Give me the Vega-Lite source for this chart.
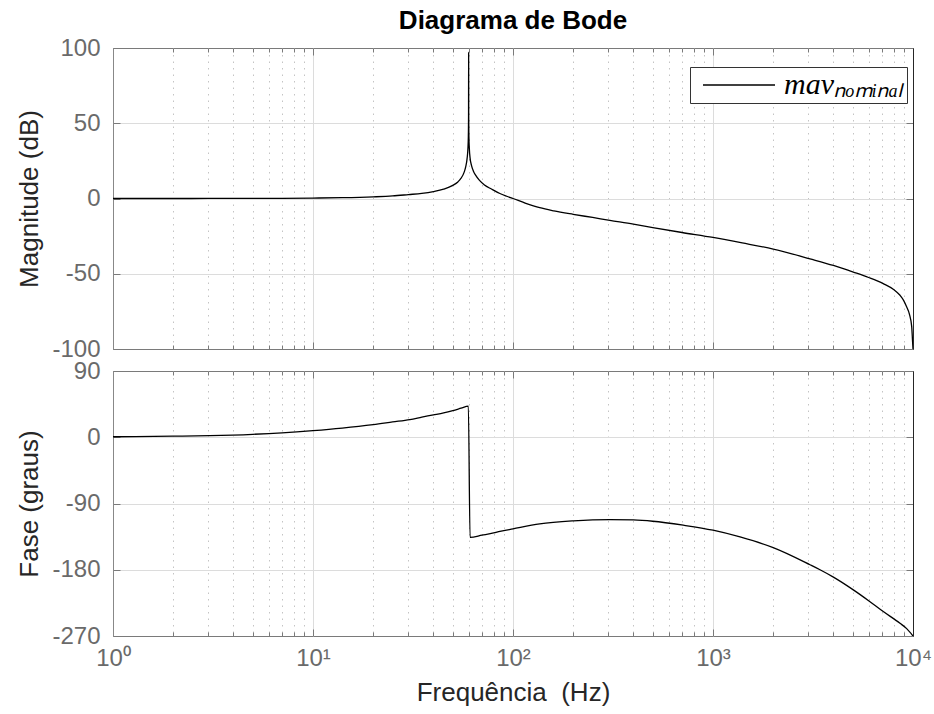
{
  "$schema": "https://vega.github.io/schema/vega-lite/v6.json",
  "background": "white",
  "padding": {"left": 16, "top": 7, "right": 6, "bottom": 6},
  "datasets": {
    "mag": [
      {"f": 1, "db": 0}, {"f": 2, "db": 0.01}, {"f": 3, "db": 0.02}, {"f": 5, "db": 0.06}, {"f": 7, "db": 0.12},
      {"f": 10, "db": 0.3}, {"f": 14, "db": 0.55}, {"f": 20, "db": 1.1}, {"f": 25, "db": 1.7}, {"f": 30, "db": 2.6},
      {"f": 35, "db": 3.4}, {"f": 40, "db": 4.6}, {"f": 45, "db": 6.2}, {"f": 50, "db": 8.7}, {"f": 53, "db": 11},
      {"f": 55, "db": 13.5}, {"f": 57, "db": 17.5}, {"f": 58, "db": 21}, {"f": 59, "db": 27}, {"f": 59.5, "db": 33},
      {"f": 59.8, "db": 41}, {"f": 59.95, "db": 55}, {"f": 60, "db": 97}, {"f": 60.05, "db": 55}, {"f": 60.2, "db": 41},
      {"f": 60.5, "db": 33}, {"f": 61, "db": 27}, {"f": 62, "db": 22}, {"f": 63.5, "db": 18}, {"f": 65, "db": 15.5},
      {"f": 68, "db": 12}, {"f": 72, "db": 9}, {"f": 78, "db": 6.3}, {"f": 86, "db": 3.3}, {"f": 93, "db": 1.5},
      {"f": 100, "db": 0}, {"f": 115, "db": -3}, {"f": 136, "db": -6.1}, {"f": 160, "db": -8.2}, {"f": 200, "db": -10.5},
      {"f": 250, "db": -12.6}, {"f": 305, "db": -14.5}, {"f": 400, "db": -17}, {"f": 500, "db": -19.3}, {"f": 700, "db": -22.6},
      {"f": 1000, "db": -25.9}, {"f": 1400, "db": -29.5}, {"f": 2000, "db": -33.6}, {"f": 3055, "db": -40.1}, {"f": 4000, "db": -44.5},
      {"f": 5030, "db": -48.9}, {"f": 6000, "db": -52.5}, {"f": 7100, "db": -56.6}, {"f": 8000, "db": -60.5}, {"f": 8610, "db": -64.3},
      {"f": 9000, "db": -68}, {"f": 9290, "db": -72}, {"f": 9600, "db": -77}, {"f": 9850, "db": -85}, {"f": 9950, "db": -95},
      {"f": 10000, "db": -100}
    ],
    "phase": [
      {"f": 1, "deg": 0.7}, {"f": 2, "deg": 1.5}, {"f": 3.05, "deg": 2.2}, {"f": 5, "deg": 4}, {"f": 7, "deg": 6},
      {"f": 10, "deg": 9}, {"f": 14, "deg": 12.5}, {"f": 20, "deg": 17.2}, {"f": 25, "deg": 20.8}, {"f": 30.5, "deg": 24},
      {"f": 35, "deg": 27.3}, {"f": 40, "deg": 30.4}, {"f": 45, "deg": 33.2}, {"f": 50, "deg": 36.3}, {"f": 55, "deg": 39.5},
      {"f": 59.8, "deg": 42.3}, {"f": 61, "deg": -136}, {"f": 70, "deg": -133}, {"f": 80, "deg": -130}, {"f": 86, "deg": -128},
      {"f": 100, "deg": -124.5}, {"f": 136, "deg": -117.7}, {"f": 200, "deg": -113.6}, {"f": 305, "deg": -111.8}, {"f": 400, "deg": -112.3},
      {"f": 500, "deg": -114.1}, {"f": 710, "deg": -119.5}, {"f": 1000, "deg": -126.3}, {"f": 1365, "deg": -135.5}, {"f": 2000, "deg": -150},
      {"f": 3055, "deg": -173.2}, {"f": 3428, "deg": -180}, {"f": 4000, "deg": -190}, {"f": 5030, "deg": -207.3}, {"f": 6000, "deg": -222},
      {"f": 7100, "deg": -236.8}, {"f": 8610, "deg": -252.7}, {"f": 9300, "deg": -260}, {"f": 10000, "deg": -270}
    ]
  },
  "spacing": 22,
  "bounds": "flush",
  "resolve": {"legend": {"color": "independent"}},
  "vconcat": [
    {
      "width": 800,
      "height": 301,
      "title": {"text": "Diagrama de Bode", "frame": "group", "anchor": "middle", "font": "Liberation Sans", "fontSize": 26, "fontWeight": "bold", "color": "#000000", "offset": 2},
      "data": {"name": "mag"},
      "layer": [
        {
          "mark": {"type": "line", "color": "#000000", "strokeWidth": 1.3, "clip": true, "interpolate": "monotone"},
          "encoding": {
            "x": {"field": "f", "type": "quantitative", "scale": {"type": "log", "domain": [1, 10000], "nice": false},
              "axis": {"values": [1,2,3,4,5,6,7,8,9,10,20,30,40,50,60,70,80,90,100,200,300,400,500,600,700,800,900,1000,2000,3000,4000,5000,6000,7000,8000,9000,10000],
                "labels": false, "title": null, "domain": false,
                "tickSize": {"condition": {"test": "abs(log(datum.value)/LN10 - round(log(datum.value)/LN10)) < 0.001", "value": -7}, "value": -4},
                "grid": true,
                "gridDash": {"condition": {"test": "abs(log(datum.value)/LN10 - round(log(datum.value)/LN10)) < 0.001", "value": []}, "value": [1.5, 5]},
                "gridColor": {"condition": {"test": "abs(log(datum.value)/LN10 - round(log(datum.value)/LN10)) < 0.001", "value": "#dcdcdc"}, "value": "#c4c4c4"},
                "gridOpacity": {"condition": {"test": "datum.value == 1 || datum.value == 10000", "value": 0}, "value": 1}}},
            "y": {"field": "db", "type": "quantitative", "scale": {"domain": [-100, 100], "nice": false},
              "axis": {"values": [-100, -50, 0, 50, 100], "title": "Magnitude (dB)", "tickSize": -7, "labelPadding": 20, "titlePadding": 9,
                "labelExpr": "replace(datum.label, '−', '-')",
                "grid": true, "gridColor": "#dcdcdc",
                "gridOpacity": {"condition": {"test": "datum.value == 100 || datum.value == -100", "value": 0}, "value": 1}}},
            "color": {"datum": "mavₙₒₘᵢₙₐₗ", "type": "nominal", "scale": {"range": ["#000000"]},
              "legend": {"orient": "none", "legendX": 577, "legendY": 19, "title": null,
                "symbolType": "M-0.4167,0H5.5833", "symbolSize": 576, "symbolStrokeWidth": 1.3, "symbolStrokeColor": "#000000",
                "labelOffset": 61, "labelFont": "Liberation Serif", "labelFontStyle": "italic", "labelFontSize": 30, "labelColor": "#000000", "labelLimit": 400,
                "strokeColor": "#333333", "fillColor": "#ffffff", "padding": 3}}
          }
        },
        {
          "mark": {"type": "line", "opacity": 0},
          "encoding": {
            "x": {"field": "f", "type": "quantitative", "scale": {"type": "log", "domain": [1, 10000], "nice": false},
              "axis": {"orient": "top", "values": [1,2,3,4,5,6,7,8,9,10,20,30,40,50,60,70,80,90,100,200,300,400,500,600,700,800,900,1000,2000,3000,4000,5000,6000,7000,8000,9000,10000],
                "labels": false, "title": null, "domain": false, "grid": false,
                "tickSize": {"condition": {"test": "abs(log(datum.value)/LN10 - round(log(datum.value)/LN10)) < 0.001", "value": -7}, "value": -4}}},
            "y": {"field": "db", "type": "quantitative", "scale": {"domain": [-100, 100], "nice": false},
              "axis": {"orient": "right", "values": [-100, -50, 0, 50, 100], "labels": false, "title": null, "domain": true, "domainColor": "#262626", "grid": false, "tickSize": -7}}
          }
        }
      ],
      "resolve": {"axis": {"x": "independent", "y": "independent"}}
    },
    {
      "width": 800,
      "height": 265,
      "data": {"name": "phase"},
      "layer": [
        {
          "mark": {"type": "line", "color": "#000000", "strokeWidth": 1.3, "clip": true, "interpolate": "monotone"},
          "encoding": {
            "x": {"field": "f", "type": "quantitative", "scale": {"type": "log", "domain": [1, 10000], "nice": false},
              "axis": {"values": [1,2,3,4,5,6,7,8,9,10,20,30,40,50,60,70,80,90,100,200,300,400,500,600,700,800,900,1000,2000,3000,4000,5000,6000,7000,8000,9000,10000],
                "title": "Frequência\u00a0 (Hz)", "domain": false, "labelPadding": 17, "titlePadding": 6, "labelFontSize": 24,
                "labelExpr": "abs(log(datum.value)/LN10 - round(log(datum.value)/LN10)) < 0.001 ? '10' + ['⁰','¹','²','³','⁴'][round(log(datum.value)/LN10)] : ''",
                "labelFlush": false, "labelOverlap": false,
                "tickSize": {"condition": {"test": "abs(log(datum.value)/LN10 - round(log(datum.value)/LN10)) < 0.001", "value": -7}, "value": -4},
                "grid": true,
                "gridDash": {"condition": {"test": "abs(log(datum.value)/LN10 - round(log(datum.value)/LN10)) < 0.001", "value": []}, "value": [1.5, 5]},
                "gridColor": {"condition": {"test": "abs(log(datum.value)/LN10 - round(log(datum.value)/LN10)) < 0.001", "value": "#dcdcdc"}, "value": "#c4c4c4"},
                "gridOpacity": {"condition": {"test": "datum.value == 1 || datum.value == 10000", "value": 0}, "value": 1}}},
            "y": {"field": "deg", "type": "quantitative", "scale": {"domain": [-270, 90], "nice": false},
              "axis": {"values": [-270, -180, -90, 0, 90], "title": "Fase (graus)", "tickSize": -7, "labelPadding": 20, "titlePadding": 9,
                "labelExpr": "replace(datum.label, '−', '-')",
                "grid": true, "gridColor": "#dcdcdc",
                "gridOpacity": {"condition": {"test": "datum.value == 90 || datum.value == -270", "value": 0}, "value": 1}}}
          }
        },
        {
          "mark": {"type": "line", "opacity": 0},
          "encoding": {
            "x": {"field": "f", "type": "quantitative", "scale": {"type": "log", "domain": [1, 10000], "nice": false},
              "axis": {"orient": "top", "values": [1,2,3,4,5,6,7,8,9,10,20,30,40,50,60,70,80,90,100,200,300,400,500,600,700,800,900,1000,2000,3000,4000,5000,6000,7000,8000,9000,10000],
                "labels": false, "title": null, "domain": false, "grid": false,
                "tickSize": {"condition": {"test": "abs(log(datum.value)/LN10 - round(log(datum.value)/LN10)) < 0.001", "value": -7}, "value": -4}}},
            "y": {"field": "deg", "type": "quantitative", "scale": {"domain": [-270, 90], "nice": false},
              "axis": {"orient": "right", "values": [-270, -180, -90, 0, 90], "labels": false, "title": null, "domain": true, "domainColor": "#262626", "grid": false, "tickSize": -7}}
          }
        }
      ],
      "resolve": {"axis": {"x": "independent", "y": "independent"}}
    }
  ],
  "config": {
    "view": {"stroke": "#7a7a7a", "strokeWidth": 1},
    "axis": {
      "labelFont": "Liberation Sans", "labelFontSize": 24, "labelColor": "#6a6a6a",
      "titleFont": "Liberation Sans", "titleFontSize": 26, "titleFontWeight": "normal", "titleColor": "#262626",
      "tickColor": "#7a7a7a", "tickWidth": 1
    }
  }
}
